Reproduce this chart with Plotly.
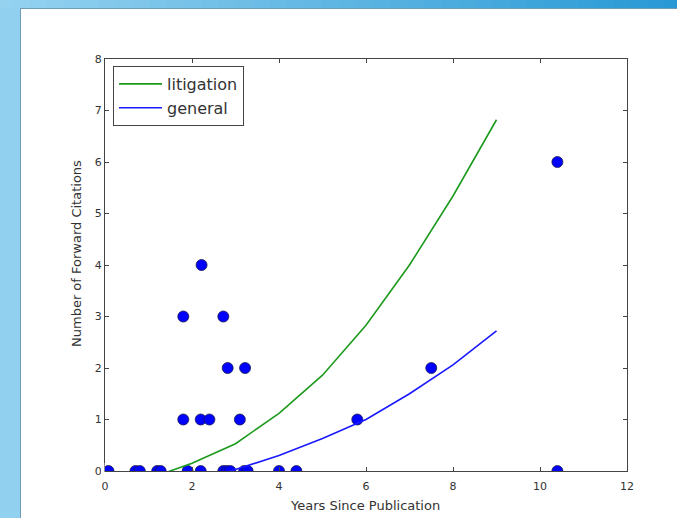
import plotly.graph_objects as go

# ---- data ----
obs_years = [0.08, 0.70, 0.80, 1.20, 1.28, 1.90, 2.20, 2.72, 2.80, 2.88, 3.20, 3.28, 4.00, 4.40, 10.40,
             1.80, 2.20, 2.40, 3.10, 5.80,
             2.82, 3.22, 7.50,
             1.80, 2.72,
             2.22,
             10.40]
obs_cites = [0, 0, 0, 0, 0, 0, 0, 0, 0, 0, 0, 0, 0, 0, 0,
             1, 1, 1, 1, 1,
             2, 2, 2,
             3, 3,
             4,
             6]

lit_years = [1, 2, 3, 4, 5, 6, 7, 8, 9]
lit_cites = [-0.15, 0.15, 0.53, 1.12, 1.86, 2.83, 4.00, 5.34, 6.82]

gen_years = [2, 3, 4, 5, 6, 7, 8, 9]
gen_cites = [-0.22, 0.03, 0.30, 0.63, 1.00, 1.50, 2.06, 2.72]

x_ticks = [0, 2, 4, 6, 8, 10, 12]
y_ticks = [0, 1, 2, 3, 4, 5, 6, 7, 8]
x_title = "Years Since Publication"
y_title = "Number of Forward Citations"

W, H = 677, 518
L, R, T, B = 105, 50, 59, 47
PW, PH = W - L - R, H - T - B


def px(X):
    return (X - L) / PW


def py(Y):
    return (H - B - Y) / PH


fig = go.Figure()
fig.add_trace(go.Scatter(x=obs_years, y=obs_cites, mode="markers", showlegend=False,
                         marker=dict(color="#0000ff", size=11,
                                     line=dict(color="#1a1a4a", width=0.8))))
fig.add_trace(go.Scatter(x=lit_years, y=lit_cites, mode="lines", name="litigation",
                         line=dict(color="#1c9a1c", width=1.6)))
fig.add_trace(go.Scatter(x=gen_years, y=gen_cites, mode="lines", name="general",
                         line=dict(color="#1a1aff", width=1.6)))

# decorative frame (blue border around white panel)
shapes = []
shapes.append(dict(type="rect", xref="paper", yref="paper", x0=px(-5), x1=px(20), y0=py(H + 5), y1=py(-5),
                   fillcolor="#92d0ef", line=dict(width=0), layer="below"))
N = 40
c0 = (0x95, 0xd2, 0xf0)
c1 = (0x28, 0x99, 0xd5)
for i in range(N):
    xa = -5 + (W + 10) * i / N
    xb = -5 + (W + 10) * (i + 1) / N + 1
    t = i / (N - 1)
    col = "rgb(%d,%d,%d)" % tuple(round(c0[k] + (c1[k] - c0[k]) * t) for k in range(3))
    shapes.append(dict(type="rect", xref="paper", yref="paper", x0=px(xa), x1=px(xb), y0=py(8), y1=py(-5),
                       fillcolor=col, line=dict(width=0), layer="below"))
shapes.append(dict(type="line", xref="paper", yref="paper", x0=px(20.5), x1=px(20.5), y0=py(8), y1=py(H + 5),
                   line=dict(color="#6f9cb8", width=1)))
shapes.append(dict(type="line", xref="paper", yref="paper", x0=px(20), x1=px(W + 5), y0=py(8.5), y1=py(8.5),
                   line=dict(color="#6f9cb8", width=1)))
# mask the marker halves that fall outside the axes (as matplotlib clips them)
shapes.append(dict(type="rect", xref="paper", yref="paper", x0=px(L - 1), x1=px(W - R + 8),
                   y0=py(H - B + 7), y1=py(H - B + 1.6),
                   fillcolor="white", line=dict(width=0), layer="above"))
shapes.append(dict(type="rect", xref="paper", yref="paper", x0=px(L - 4), x1=px(L - 0.6),
                   y0=py(H - B + 7), y1=py(H - B - 8),
                   fillcolor="white", line=dict(width=0), layer="above"))

annotations = [
    dict(text=x_title, xref="paper", yref="paper", x=px(365), y=py(505), xanchor="center", yanchor="middle",
         showarrow=False, font=dict(size=13, color="#333333")),
    dict(text=y_title, xref="paper", yref="paper", x=px(76), y=py(254), xanchor="center", yanchor="middle",
         textangle=-90, showarrow=False, font=dict(size=13, color="#333333")),
]

axis_common = dict(showline=True, linecolor="#444444", linewidth=1, mirror="allticks", automargin=False,
                   ticks="inside", ticklen=4, tickcolor="#444444", showgrid=False, zeroline=False,
                   tickfont=dict(size=11, color="#333333", family="DejaVu Sans"))

fig.update_layout(
    width=W, height=H, autosize=False,
    margin=dict(l=L, r=R, t=T, b=B, pad=0),
    paper_bgcolor="white", plot_bgcolor="white",
    font=dict(family="DejaVu Sans", color="#333333"),
    shapes=shapes, annotations=annotations,
    xaxis=dict(range=[0, 12], tickvals=x_ticks, ticktext=[str(v) for v in x_ticks],
               ticklabelstandoff=5, **axis_common),
    yaxis=dict(range=[0, 8], tickvals=y_ticks, ticktext=[str(v) for v in y_ticks],
               **axis_common),
    legend=dict(x=px(113), y=py(66), xanchor="left", yanchor="top",
                bgcolor="white", bordercolor="#444444", borderwidth=1,
                font=dict(size=16, color="#333333"), itemwidth=43),
)

fig.write_html("out.html", config={"displayModeBar": False},
               post_script="document.body.style.margin='0';document.body.style.padding='0';"
                           "document.documentElement.style.overflow='hidden';")
